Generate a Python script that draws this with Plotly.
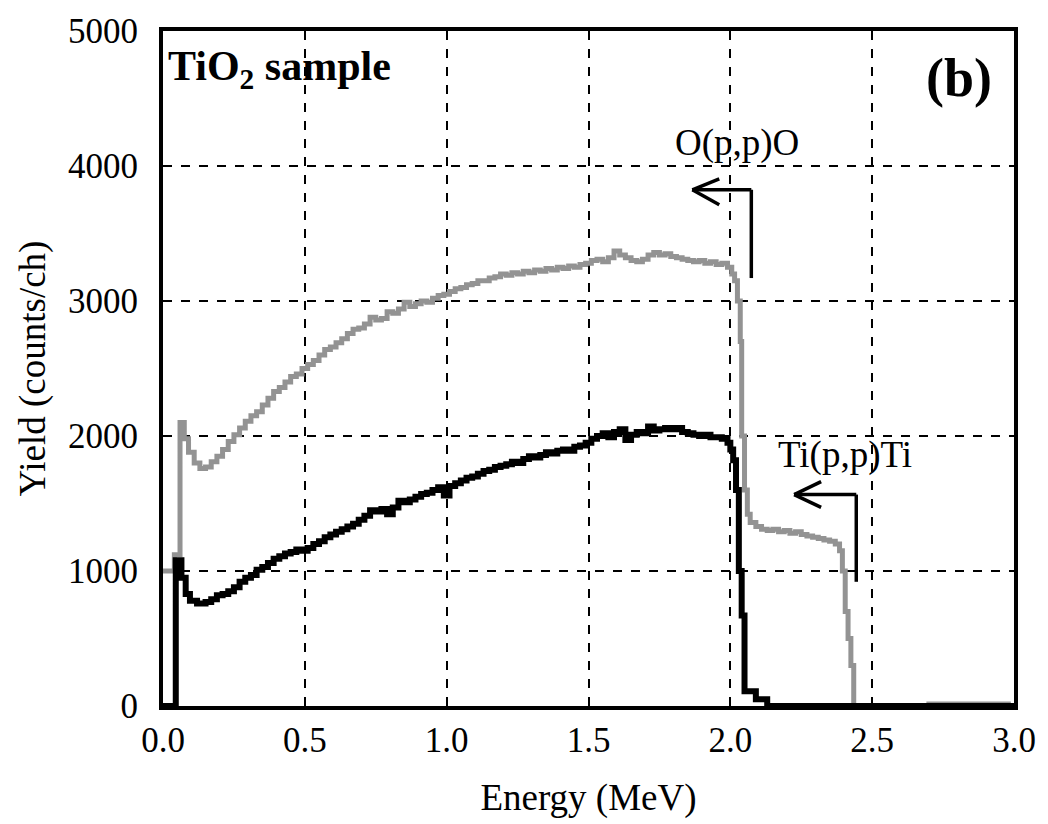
import plotly.graph_objects as go

# Gray spectrum (upper curve)
gray_e = [0.000, 0.040, 0.060, 0.075, 0.090, 0.110, 0.130, 0.150, 0.170, 0.190,
          0.210, 0.230, 0.250, 0.270, 0.290, 0.310, 0.330, 0.350, 0.370, 0.390,
          0.410, 0.430, 0.450, 0.470, 0.490, 0.510, 0.530, 0.550, 0.570, 0.590,
          0.610, 0.630, 0.650, 0.670, 0.690, 0.710, 0.730, 0.750, 0.770, 0.790,
          0.810, 0.830, 0.850, 0.870, 0.890, 0.910, 0.930, 0.950, 0.970, 0.990,
          1.010, 1.030, 1.050, 1.070, 1.090, 1.110, 1.130, 1.150, 1.170, 1.190,
          1.210, 1.230, 1.250, 1.270, 1.290, 1.310, 1.330, 1.350, 1.370, 1.390,
          1.410, 1.430, 1.450, 1.470, 1.490, 1.510, 1.530, 1.550, 1.570, 1.590,
          1.610, 1.630, 1.650, 1.670, 1.690, 1.710, 1.730, 1.750, 1.770, 1.790,
          1.810, 1.830, 1.850, 1.870, 1.890, 1.910, 1.930, 1.950, 1.970, 1.990,
          2.005, 2.015, 2.025, 2.035, 2.040, 2.050, 2.060, 2.070, 2.090, 2.110,
          2.130, 2.150, 2.170, 2.190, 2.210, 2.230, 2.250, 2.270, 2.290, 2.310,
          2.330, 2.350, 2.370, 2.385, 2.395, 2.405, 2.415, 2.425, 2.435, 2.700,
          2.980]
gray_y = [1000, 1120, 2100, 1980, 1880, 1800, 1760, 1770, 1810, 1850,
          1900, 1960, 2010, 2060, 2110, 2150, 2180, 2230, 2280, 2330,
          2360, 2400, 2440, 2460, 2500, 2530, 2560, 2600, 2640, 2660,
          2690, 2720, 2760, 2790, 2800, 2830, 2880, 2860, 2870, 2920,
          2910, 2940, 2990, 2960, 2980, 3000, 2990, 3020, 3040, 3050,
          3070, 3090, 3100, 3120, 3130, 3150, 3150, 3170, 3180, 3200,
          3190, 3210, 3200, 3220, 3210, 3230, 3220, 3240, 3230, 3250,
          3240, 3260, 3250, 3270, 3280, 3300, 3310, 3290, 3320, 3370,
          3340, 3320, 3300, 3290, 3310, 3340, 3360, 3340, 3350, 3330,
          3320, 3310, 3300, 3290, 3300, 3280, 3290, 3270, 3280, 3250,
          3200, 3150, 3000, 2700, 2000, 1600, 1420, 1360, 1330, 1310,
          1300, 1310, 1290, 1300, 1280, 1290, 1270, 1260, 1250, 1240,
          1230, 1220, 1200, 1150, 1000, 700, 500, 300, 0, 15,
          0]

# Black spectrum (lower curve)
black_e = [0.000, 0.045, 0.065, 0.080, 0.095, 0.120, 0.150, 0.170, 0.190, 0.210,
           0.230, 0.250, 0.270, 0.290, 0.310, 0.330, 0.350, 0.370, 0.390, 0.410,
           0.430, 0.450, 0.470, 0.490, 0.510, 0.530, 0.550, 0.570, 0.590, 0.610,
           0.630, 0.650, 0.670, 0.690, 0.710, 0.730, 0.750, 0.770, 0.790, 0.810,
           0.830, 0.850, 0.870, 0.890, 0.910, 0.930, 0.950, 0.970, 0.990, 1.010,
           1.030, 1.050, 1.070, 1.090, 1.110, 1.130, 1.150, 1.170, 1.190, 1.210,
           1.230, 1.250, 1.270, 1.290, 1.310, 1.330, 1.350, 1.370, 1.390, 1.410,
           1.430, 1.450, 1.470, 1.490, 1.510, 1.530, 1.550, 1.570, 1.590, 1.610,
           1.630, 1.650, 1.670, 1.690, 1.710, 1.730, 1.750, 1.770, 1.790, 1.810,
           1.830, 1.850, 1.870, 1.890, 1.910, 1.930, 1.950, 1.970, 1.990, 2.000,
           2.010, 2.020, 2.030, 2.040, 2.050, 2.090, 2.130, 3.000]
black_y = [0, 1080, 950, 830, 780, 760, 770, 790, 820, 830,
           850, 880, 920, 950, 970, 1010, 1030, 1060, 1090, 1110,
           1130, 1140, 1160, 1150, 1170, 1200, 1220, 1250, 1270, 1290,
           1310, 1330, 1350, 1380, 1410, 1450, 1440, 1460, 1420, 1470,
           1520, 1510, 1530, 1550, 1570, 1580, 1600, 1620, 1560, 1630,
           1650, 1670, 1690, 1700, 1720, 1740, 1750, 1770, 1780, 1790,
           1810, 1800, 1830, 1850, 1840, 1860, 1880, 1870, 1890, 1900,
           1890, 1920, 1930, 1950, 1980, 2000, 2020, 1990, 2030, 2050,
           1970, 2010, 2030, 2020, 2070, 2040, 2050, 2060, 2050, 2060,
           2030, 2020, 2010, 2000, 2010, 1990, 1990, 1980, 1950, 1900,
           1820, 1600, 1000, 670, 110, 50, 0, 0]

x_ticks = [0.0, 0.5, 1.0, 1.5, 2.0, 2.5, 3.0]
x_tick_text = ["0.0", "0.5", "1.0", "1.5", "2.0", "2.5", "3.0"]
y_ticks = [0, 1000, 2000, 3000, 4000, 5000]
y_tick_text = ["0", "1000", "2000", "3000", "4000", "5000"]

FONT = "Liberation Serif, Times New Roman, serif"

fig = go.Figure()
fig.add_trace(go.Scatter(x=gray_e, y=gray_y, mode="lines", line_shape="hv",
                         line=dict(color="#939393", width=5), showlegend=False))
fig.add_trace(go.Scatter(x=black_e, y=black_y, mode="lines", line_shape="hv",
                         line=dict(color="black", width=6), showlegend=False))

# O(p,p)O marker arrow
arrow_line = dict(color="black", width=3.5)
fig.add_shape(type="line", x0=2.074, y0=3170, x1=2.074, y1=3824, line=arrow_line)
fig.add_shape(type="line", x0=2.074, y0=3824, x1=1.866, y1=3824, line=arrow_line)
fig.add_shape(type="line", x0=1.866, y0=3824, x1=1.961, y1=3904, line=arrow_line)
fig.add_shape(type="line", x0=1.866, y0=3824, x1=1.961, y1=3713, line=arrow_line)
# Ti(p,p)Ti marker arrow
fig.add_shape(type="line", x0=2.444, y0=920, x1=2.444, y1=1566, line=arrow_line)
fig.add_shape(type="line", x0=2.444, y0=1566, x1=2.225, y1=1566, line=arrow_line)
fig.add_shape(type="line", x0=2.225, y0=1566, x1=2.320, y1=1662, line=arrow_line)
fig.add_shape(type="line", x0=2.225, y0=1566, x1=2.320, y1=1471, line=arrow_line)

fig.add_annotation(x=2.025, y=4170, text="O(p,p)O", showarrow=False,
                   font=dict(family=FONT, size=37, color="black"))
fig.add_annotation(x=2.405, y=1860, text="Ti(p,p)Ti", showarrow=False,
                   font=dict(family=FONT, size=37, color="black"))
fig.add_annotation(x=0.01, y=4720, xanchor="left", yanchor="middle",
                   text="<b>TiO<sub>2</sub> sample</b>", showarrow=False,
                   font=dict(family=FONT, size=42, color="black"))
fig.add_annotation(x=2.93, y=4650, xanchor="right", yanchor="middle",
                   text="<b>(b)</b>", showarrow=False,
                   font=dict(family=FONT, size=54, color="black"))

axis_common = dict(showgrid=True, gridcolor="black", gridwidth=1.5, griddash="dash",
                   showline=True, linecolor="black", linewidth=4, mirror=True,
                   ticks="", zeroline=False,
                   tickfont=dict(family=FONT, size=35, color="black"))

fig.update_xaxes(range=[0, 3.0], tickvals=x_ticks, ticktext=x_tick_text,
                 ticklabelstandoff=0,
                 title=dict(text="Energy (MeV)", font=dict(family=FONT, size=37, color="black"),
                            standoff=26),
                 **axis_common)
fig.update_yaxes(range=[0, 5000], tickvals=y_ticks, ticktext=y_tick_text,
                 ticklabelstandoff=14,
                 title=dict(text="Yield (counts/ch)", font=dict(family=FONT, size=37, color="black"),
                            standoff=12),
                 **axis_common)

fig.update_layout(width=1048, height=824, plot_bgcolor="white", paper_bgcolor="white",
                  margin=dict(l=163, r=32, t=28, b=116), showlegend=False)

fig.write_html("out.html")
